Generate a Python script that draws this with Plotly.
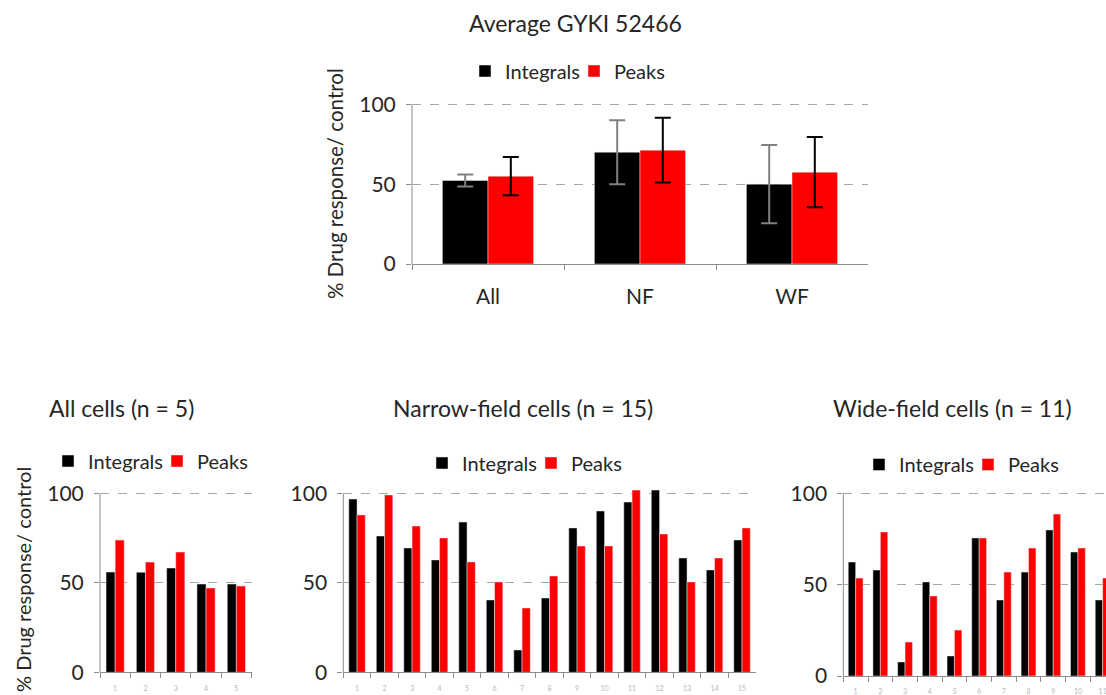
import plotly.graph_objects as go

W, H = 1106, 695

# ---------------- data ----------------
top_categories = ["All", "NF", "WF"]
top_integrals = [52.3, 70.0, 50.0]
top_integrals_err = [3.8, 20.0, 24.5]
top_peaks = [55.0, 71.3, 57.5]
top_peaks_err = [12.0, 20.2, 22.0]

all_cells = ["1", "2", "3", "4", "5"]
all_integrals = [56.1, 56.0, 58.4, 49.4, 49.4]
all_peaks = [74.0, 61.7, 67.3, 47.2, 48.3]

nf_cells = ["1", "2", "3", "4", "5", "6", "7", "8", "9", "10", "11", "12", "13", "14", "15"]
nf_integrals = [97.0, 76.3, 69.6, 62.9, 84.1, 40.5, 12.5, 41.6, 80.8, 90.3, 95.3, 102.0, 64.0, 57.3, 74.1]
nf_peaks = [88.1, 99.3, 81.9, 75.2, 61.8, 50.6, 36.0, 53.9, 70.7, 70.7, 102.0, 77.4, 50.6, 64.0, 80.8]

wf_cells = ["1", "2", "3", "4", "5", "6", "7", "8", "9", "10", "11"]
wf_integrals = [62.5, 58.1, 7.7, 51.6, 11.0, 75.7, 41.7, 57.0, 80.1, 68.0, 41.7]
wf_peaks = [53.7, 79.0, 18.6, 43.9, 25.2, 75.7, 57.0, 70.2, 88.8, 70.2, 53.7]

# ---------------- style ----------------
FONT = "Lato"
TXT = "#262626"
AXC = "#8c8c8c"
GRID = "#a6a6a6"
BLACK = "#000000"
RED = "#ff0000"


def xd(a, b):
    return [a / W, b / W]


def yd(top, bottom):
    return [1 - bottom / H, 1 - top / H]


fig = go.Figure()

# top chart
fig.add_trace(go.Bar(x=top_categories, y=top_integrals, name="Integrals", marker_color=BLACK,
                     error_y=dict(type="data", array=top_integrals_err, color="#808080", thickness=2, width=8),
                     xaxis="x", yaxis="y", legend="legend"))
fig.add_trace(go.Bar(x=top_categories, y=top_peaks, name="Peaks", marker_color=RED,
                     error_y=dict(type="data", array=top_peaks_err, color=BLACK, thickness=2, width=8),
                     xaxis="x", yaxis="y", legend="legend"))

panels = [
    (all_cells, all_integrals, all_peaks, "x2", "y2", "legend2"),
    (nf_cells, nf_integrals, nf_peaks, "x3", "y3", "legend3"),
    (wf_cells, wf_integrals, wf_peaks, "x4", "y4", "legend4"),
]
for cats, ints, pks, xa, ya, lg in panels:
    fig.add_trace(go.Bar(x=cats, y=ints, name="Integrals", marker_color=BLACK,
                         xaxis=xa, yaxis=ya, legend=lg))
    fig.add_trace(go.Bar(x=cats, y=pks, name="Peaks", marker_color=RED,
                         xaxis=xa, yaxis=ya, legend=lg))


def xaxis_style(domain, labelsize, standoff, rng=None, labelcolor=TXT):
    d = dict(domain=domain, type="category", showline=True, linecolor=AXC, linewidth=1,
             ticks="outside", tickson="boundaries", ticklen=5, tickcolor=AXC,
             showgrid=False, zeroline=False, tickfont=dict(family=FONT, size=labelsize, color=labelcolor),
             ticklabelstandoff=standoff, automargin=False, fixedrange=True)
    if rng is not None:
        d["range"] = rng
    return d


def yaxis_style(domain, rng, anchor):
    return dict(domain=domain, range=rng, anchor=anchor, tickvals=[0, 50, 100],
                ticks="outside", ticklen=5, tickcolor=AXC, showline=False,
                showgrid=True, gridcolor=GRID, griddash="dash", gridwidth=1, zeroline=False,
                tickfont=dict(family=FONT, size=21, color=TXT), ticklabelstandoff=6,
                automargin=False, fixedrange=True)


fig.update_layout(
    width=W, height=H, margin=dict(l=0, r=0, t=0, b=0, autoexpand=False),
    paper_bgcolor="white", plot_bgcolor="white",
    barmode="group", bargap=0.4, bargroupgap=0,
    font=dict(family=FONT, color=TXT),
    showlegend=True,
    xaxis=xaxis_style(xd(412, 868), 21, 14),
    yaxis=yaxis_style(yd(101.9, 264), [0, 101.5], "x"),
    xaxis2=dict(xaxis_style(xd(100, 251.5), 7, 9, labelcolor="#b8b8b8"), anchor="y2"),
    yaxis2=yaxis_style(yd(488.3, 672.3), [0, 103], "x2"),
    xaxis3=dict(xaxis_style(xd(343.3, 755.8), 7, 9, labelcolor="#b8b8b8"), anchor="y3"),
    yaxis3=yaxis_style(yd(488.3, 672.3), [0, 103], "x3"),
    xaxis4=dict(xaxis_style(xd(843.3, 1106), 7, 9, rng=[-0.5, 10.136], labelcolor="#b8b8b8"), anchor="y4"),
    yaxis4=yaxis_style(yd(488.2, 676), [0, 103], "x4"),
)

legend_common = dict(orientation="h", xanchor="center", yanchor="middle", bgcolor="rgba(0,0,0,0)",
                     font=dict(family=FONT, size=20, color=TXT), itemwidth=30, tracegroupgap=0,
                     entrywidth=64, entrywidthmode="pixels")
fig.update_layout(
    legend=dict(legend_common, x=574 / W, y=1 - 71 / H),
    legend2=dict(legend_common, x=157 / W, y=1 - 461 / H),
    legend3=dict(legend_common, x=531 / W, y=1 - 463 / H),
    legend4=dict(legend_common, x=968 / W, y=1 - 464.5 / H),
)

# y-axis lines (stop at 100)
for xa, ya in [("x", "y"), ("x2", "y2"), ("x3", "y3"), ("x4", "y4")]:
    fig.add_shape(type="line", xref=xa + " domain", yref=ya, x0=0, x1=0, y0=0, y1=100,
                  line=dict(color=AXC, width=1))

annotations = [
    dict(text="Average GYKI 52466", x=575 / W, y=1 - 23 / H),
    dict(text="All cells (n = 5)", x=121 / W, y=1 - 408 / H),
    dict(text="Narrow-field cells (n = 15)", x=523 / W, y=1 - 408 / H),
    dict(text="Wide-field cells (n = 11)", x=953 / W, y=1 - 408 / H),
]
for a in annotations:
    fig.add_annotation(text=a["text"], x=a["x"], y=a["y"], xref="paper", yref="paper",
                       xanchor="center", yanchor="middle", showarrow=False,
                       font=dict(family=FONT, size=23, color=TXT))

for xc, yc, fs in [(335, 184, 20.5), (23, 580, 20)]:
    fig.add_annotation(text="% Drug response/ control", x=xc / W, y=1 - yc / H, xref="paper", yref="paper",
                       xanchor="center", yanchor="middle", showarrow=False, textangle=-90,
                       font=dict(family=FONT, size=fs, color=TXT))

fig.write_html("out.html")
